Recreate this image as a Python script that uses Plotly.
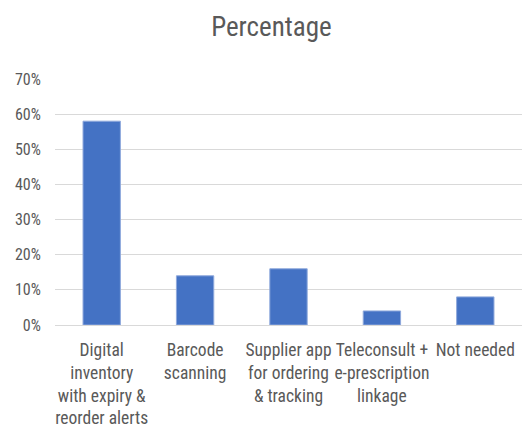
import plotly.graph_objects as go

categories = [
    "Digital<br>inventory<br>with expiry &<br>reorder alerts",
    "Barcode<br>scanning",
    "Supplier app<br>for ordering<br>& tracking",
    "Teleconsult +<br>e-prescription<br>linkage",
    "Not needed",
]
percentages = [0.58, 0.14, 0.16, 0.04, 0.08]
y_ticks = [0, 0.1, 0.2, 0.3, 0.4, 0.5, 0.6, 0.7]
y_tick_labels = ["0%", "10%", "20%", "30%", "40%", "50%", "60%", "70%"]

FONT = "Roboto Condensed, Roboto, sans-serif"
TEXT = "#595959"

fig = go.Figure(
    go.Bar(
        x=categories,
        y=percentages,
        marker=dict(color="#4472C4", line=dict(color="#8fa9dc", width=1)),
    )
)

fig.update_layout(
    width=522,
    height=448,
    margin=dict(l=55, r=0, t=79, b=123),
    paper_bgcolor="white",
    plot_bgcolor="white",
    bargap=0.6,
    showlegend=False,
    font=dict(family=FONT, color=TEXT),
    title=dict(
        text="Percentage",
        x=0.52,
        xanchor="center",
        y=0.94,
        yanchor="middle",
        font=dict(family=FONT, size=27, color=TEXT),
    ),
)

fig.update_xaxes(
    showgrid=False,
    showline=True,
    linecolor="#d9d9d9",
    linewidth=1,
    tickfont=dict(size=17.5, color=TEXT),
    ticks="outside",
    ticklen=9,
    tickcolor="rgba(0,0,0,0)",
    tickangle=0,
)

fig.update_yaxes(
    range=[0, 0.7],
    tickvals=y_ticks,
    ticktext=y_tick_labels,
    showgrid=True,
    gridcolor="#d9d9d9",
    gridwidth=1,
    zeroline=False,
    showline=False,
    tickfont=dict(size=16, color=TEXT),
    ticks="outside",
    ticklen=10,
    tickcolor="rgba(0,0,0,0)",
)

fig.write_html("out.html")
